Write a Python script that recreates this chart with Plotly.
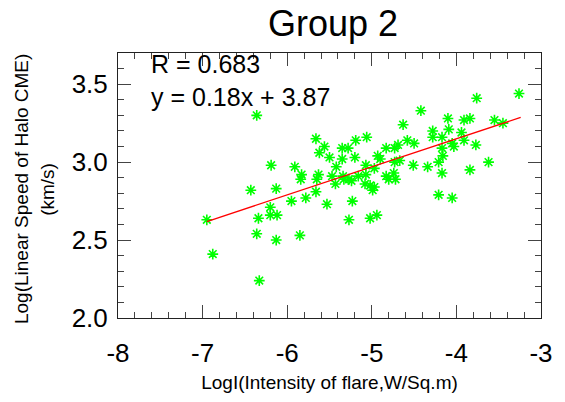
import plotly.graph_objects as go

# Log flare intensity (x) and log CME linear speed (y)
flare_logI = [
    -3.26, -3.76, -4.42, -4.10, -3.84, -3.91, -3.55, -3.45, -4.63, -4.09,
    -4.28, -3.94, -4.28, -4.17, -5.66, -5.06, -5.19, -4.58, -4.50, -4.05,
    -3.91, -5.56, -3.77, -4.03, -4.69, -4.83, -4.73, -5.35, -5.28, -5.62,
    -4.17, -4.16, -4.93, -5.50, -5.20, -5.35, -4.90, -4.67, -4.73, -4.21,
    -5.42, -5.07, -4.51, -3.62, -4.34, -4.97, -5.83, -5.63, -5.47, -5.34,
    -5.16, -5.07, -4.83, -4.74, -4.17, -3.84, -5.43, -5.27, -5.08, -5.02,
    -4.97, -5.84, -5.65, -5.33, -5.24, -4.99, -4.80, -4.72, -5.78, -5.66,
    -5.53, -5.23, -4.21, -4.05, -5.27, -5.02, -4.94, -5.85, -6.95, -6.43,
    -6.13, -5.95, -6.20, -6.34, -6.20, -6.12, -6.36, -6.13, -6.88, -6.33,
    -6.36, -6.19, -5.91,
]
cme_logV = [
    3.44, 3.41, 3.33, 3.28, 3.28, 3.27, 3.27, 3.25, 3.24, 3.21,
    3.20, 3.19, 3.16, 3.16, 3.15, 3.16, 3.14, 3.14, 3.12, 3.12,
    3.14, 3.10, 3.11, 3.10, 3.11, 3.09, 3.09, 3.09, 3.09, 3.06,
    3.09, 3.04, 3.04, 3.03, 3.03, 3.02, 3.02, 3.01, 3.00, 3.00,
    2.97, 2.98, 2.98, 3.00, 2.97, 2.96, 2.92, 2.92, 2.91, 2.91,
    2.91, 2.92, 2.91, 2.93, 2.93, 2.95, 2.86, 2.89, 2.86, 2.85,
    2.84, 2.89, 2.89, 2.89, 2.88, 2.82, 2.89, 2.89, 2.77, 2.81,
    2.73, 2.75, 2.79, 2.77, 2.63, 2.64, 2.66, 2.53, 2.63, 2.82,
    2.83, 2.75, 2.71, 2.64, 2.66, 2.66, 2.54, 2.50, 2.41, 2.24,
    3.30, 2.98, 2.97,
]

# Fit line stated on the chart
fit_slope = 0.18
fit_intercept = 3.87
fit_x = [-6.95, -3.24]
fit_y = [fit_slope * v + fit_intercept for v in fit_x]

x_ticks = [-8, -7, -6, -5, -4, -3]
x_ticklabels = ["-8", "-7", "-6", "-5", "-4", "-3"]
y_ticks = [2.0, 2.5, 3.0, 3.5]
y_ticklabels = ["2.0", "2.5", "3.0", "3.5"]

title_text = "Group 2"
r_text = "R = 0.683"
eq_text = "y = 0.18x + 3.87"
x_title = "LogI(Intensity of flare,W/Sq.m)"
y_title_1 = "Log(Linear Speed of Halo CME)"
y_title_2 = "(km/s)"

FONT = "Liberation Sans, Arial, sans-serif"

fig = go.Figure()
fig.add_trace(go.Scatter(
    x=flare_logI, y=cme_logV, mode="markers",
    marker=dict(symbol="asterisk-open", size=9, color="#00ff00",
                line=dict(color="#00ff00", width=1.6)),
    showlegend=False, hoverinfo="skip",
))
fig.add_trace(go.Scatter(
    x=fit_x, y=fit_y, mode="lines",
    line=dict(color="#ff0000", width=1.3),
    showlegend=False, hoverinfo="skip",
))

axis_common = dict(
    showgrid=False, zeroline=False, showline=True, linecolor="#222222",
    linewidth=1, mirror="allticks", ticks="inside", tickcolor="#444444",
    tickwidth=1, ticklen=13,
    tickfont=dict(family=FONT, size=26, color="black"),
)

fig.update_xaxes(
    range=[-8, -3], tickmode="array", tickvals=x_ticks, ticktext=x_ticklabels,
    minor=dict(dtick=0.2, ticklen=6, ticks="inside", tickcolor="#444444", tickwidth=1),
    ticklabelstandoff=12,
    title=dict(text=x_title, font=dict(family=FONT, size=19, color="black"), standoff=8),
    **axis_common,
)
fig.update_yaxes(
    range=[2.0, 3.7], tickmode="array", tickvals=y_ticks, ticktext=y_ticklabels,
    minor=dict(dtick=0.1, ticklen=6, ticks="inside", tickcolor="#444444", tickwidth=1),
    ticklabelstandoff=4,
    **axis_common,
)

fig.add_annotation(x=-7.63, y=3.525, xref="x", yref="y",
                   text=r_text + "<br>" + eq_text, align="left",
                   showarrow=False, xanchor="left", yanchor="middle",
                   font=dict(family=FONT, size=25, color="black"))
fig.add_annotation(x=-0.228, y=0.485, xref="paper", yref="paper", text=y_title_1,
                   showarrow=False, textangle=-90, xanchor="center", yanchor="middle",
                   font=dict(family=FONT, size=19, color="black"))
fig.add_annotation(x=-0.167, y=0.485, xref="paper", yref="paper", text=y_title_2,
                   showarrow=False, textangle=-90, xanchor="center", yanchor="middle",
                   font=dict(family=FONT, size=19, color="black"))

fig.update_layout(
    width=565, height=402,
    margin=dict(l=118, r=17, t=53, b=83),
    paper_bgcolor="white", plot_bgcolor="white",
    title=dict(text=title_text, x=0.5895, xanchor="center", y=0.943, yanchor="middle",
               font=dict(family=FONT, size=36, color="black")),
)

fig.write_html("out.html")
